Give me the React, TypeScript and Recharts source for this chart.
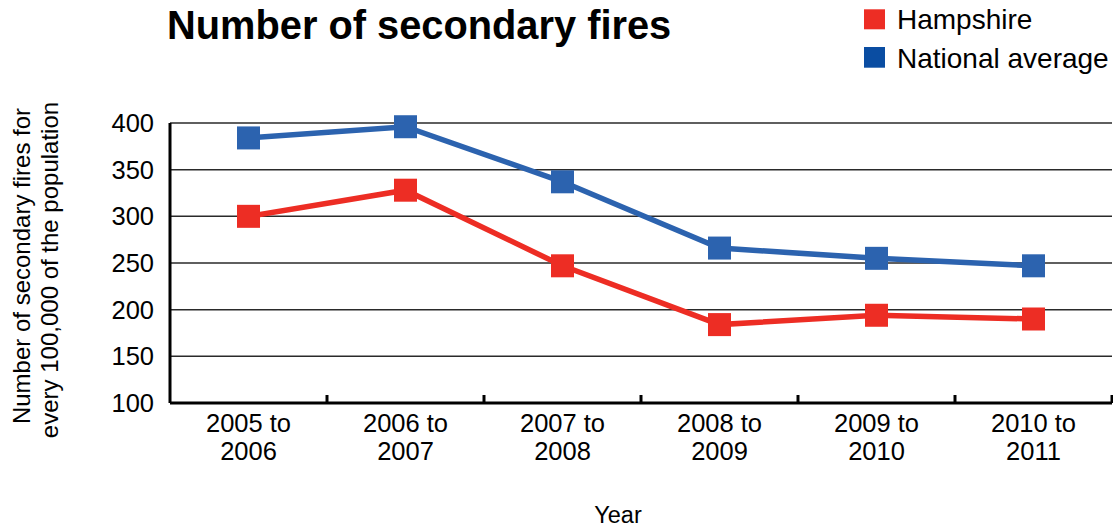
import React from 'react';
import { ComposedChart, Line, XAxis, YAxis, CartesianGrid } from 'recharts';

const categories = ['2005 to 2006', '2006 to 2007', '2007 to 2008', '2008 to 2009', '2009 to 2010', '2010 to 2011'];
const hampshire = [300, 328, 247, 184, 194, 190];
const national = [384, 396, 337, 266, 255, 247];
const yTicks = [100, 150, 200, 250, 300, 350, 400];

const data = categories.map((c, i) => ({ year: c, hampshire: hampshire[i], national: national[i] }));

const W = 1113;
const H = 529;
const MARGIN = { top: 123, right: 1, bottom: 0, left: 0 };
const Y_AXIS_W = 170;
const X_AXIS_H = 126;
const PLOT_W = W - MARGIN.left - MARGIN.right - Y_AXIS_W;
const BAND = PLOT_W / categories.length;

const FONT = '"Liberation Sans", Arial, Helvetica, sans-serif';
const RED = '#ED2D24';
const BLUE_LINE = '#2C63AF';
const BLUE_LEGEND = '#0A4DA2';

const XTick = (props: any) => {
  const { x, y, payload } = props;
  const parts = String(payload.value).split(' to ');
  return (
    <g>
      <line x1={x + BAND / 2} x2={x + BAND / 2} y1={y} y2={y - 8} stroke="#000" strokeWidth={3} />
      <text x={x} y={y} textAnchor="middle" fontFamily={FONT} fontSize={25.5} fill="#000">
        <tspan x={x} dy={28.7}>{parts[0] + ' to'}</tspan>
        <tspan x={x} dy={28.3}>{parts[1]}</tspan>
      </text>
    </g>
  );
};

const squareDot = (color: string) => (p: any) => (
  <rect key={`${color}-${p.index}`} x={p.cx - 11.5} y={p.cy - 11.5} width={23} height={23} fill={color} />
);

export default function App() {
  return (
    <div style={{ position: 'absolute', left: 0, top: 0, width: W, height: H, background: '#fff' }}>
      <ComposedChart width={W} height={H} data={data} margin={MARGIN}>
        <CartesianGrid horizontal vertical={false} stroke="#2a2a2a" strokeWidth={1.5} />
        <XAxis
          dataKey="year"
          scale="band"
          height={X_AXIS_H}
          tickLine={false}
          tickSize={0}
          tickMargin={0}
          interval={0}
          axisLine={{ stroke: '#000', strokeWidth: 3 }}
          tick={<XTick />}
        />
        <YAxis
          width={Y_AXIS_W}
          domain={[100, 400]}
          ticks={yTicks}
          tickLine={false}
          tickSize={0}
          tickMargin={16}
          axisLine={{ stroke: '#000', strokeWidth: 3 }}
          tick={{ fill: '#000', fontSize: 25.5, fontFamily: FONT }}
        />
        <Line
          dataKey="hampshire"
          stroke={RED}
          strokeWidth={5.5}
          dot={squareDot(RED)}
          activeDot={false}
          isAnimationActive={false}
        />
        <Line
          dataKey="national"
          stroke={BLUE_LINE}
          strokeWidth={5.5}
          dot={squareDot(BLUE_LINE)}
          activeDot={false}
          isAnimationActive={false}
        />
      </ComposedChart>
      <svg width={W} height={H} style={{ position: 'absolute', left: 0, top: 0, pointerEvents: 'none' }}>
        <text x={167} y={39.3} fontFamily={FONT} fontWeight="bold" fontSize={39.8} fill="#000">
          Number of secondary fires
        </text>
        <rect x={864} y={9.3} width={21} height={20} fill={RED} />
        <text x={897} y={29.3} fontFamily={FONT} fontSize={28} fill="#000">Hampshire</text>
        <rect x={864} y={47} width={21} height={20.7} fill={BLUE_LEGEND} />
        <text x={897} y={67.7} fontFamily={FONT} fontSize={28} fill="#000">National average</text>
        <text transform="translate(30,266) rotate(-90)" textAnchor="middle" fontFamily={FONT} fontSize={24} fill="#000">
          Number of secondary fires for
        </text>
        <text transform="translate(58,270) rotate(-90)" textAnchor="middle" fontFamily={FONT} fontSize={24} fill="#000">
          every 100,000 of the population
        </text>
        <text x={618} y={523} textAnchor="middle" fontFamily={FONT} fontSize={23.5} fill="#000">Year</text>
      </svg>
    </div>
  );
}
